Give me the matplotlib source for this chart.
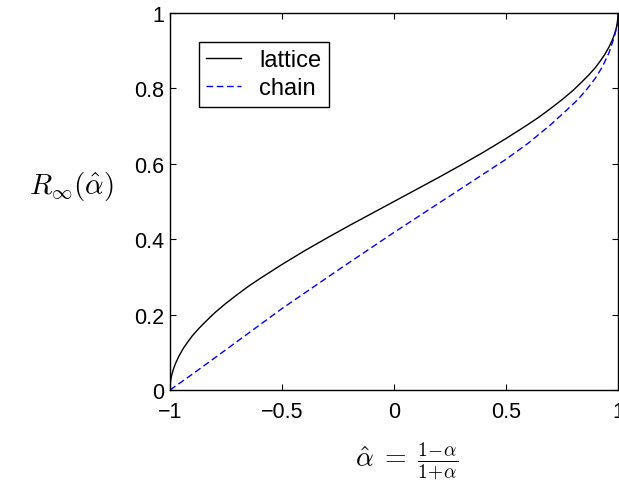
import matplotlib
matplotlib.use("Agg")
import matplotlib.pyplot as plt

plt.rcParams['font.family'] = ['Liberation Sans', 'DejaVu Sans']
plt.rcParams['mathtext.fontset'] = 'cm'

# lattice curve
lattice_x = [-1, -0.999, -0.997, -0.993, -0.985, -0.975, -0.96, -0.94, -0.92, -0.9,
             -0.87, -0.84, -0.8, -0.75, -0.7, -0.65, -0.6, -0.5, -0.4, -0.3, -0.2, -0.1, 0,
             0.1, 0.2, 0.3, 0.4, 0.5, 0.6, 0.65, 0.7, 0.75, 0.8, 0.84, 0.87, 0.9, 0.92,
             0.94, 0.96, 0.975, 0.985, 0.993, 0.997, 0.999, 1]
lattice_y = [0, 0.014, 0.025, 0.038, 0.055, 0.071, 0.09, 0.111, 0.128, 0.144,
             0.164, 0.182, 0.205, 0.230, 0.253, 0.275, 0.295, 0.333, 0.369, 0.403, 0.436, 0.468, 0.5,
             0.532, 0.564, 0.597, 0.631, 0.667, 0.705, 0.725, 0.747, 0.770, 0.795, 0.818, 0.836, 0.856, 0.872,
             0.889, 0.91, 0.929, 0.945, 0.962, 0.975, 0.986, 1.0]

# chain curve
chain_x = [-1, -0.9, -0.75, -0.5, -0.25, 0, 0.25, 0.5, 0.6, 0.7, 0.77, 0.82, 0.86,
           0.9, 0.93, 0.96, 0.98, 0.99, 1.0]
chain_y = [0, 0.042, 0.107, 0.216, 0.318, 0.418, 0.515, 0.612, 0.655, 0.704, 0.742,
           0.77, 0.797, 0.828, 0.857, 0.895, 0.93, 0.952, 0.975]

xticks = [-1, -0.5, 0, 0.5, 1]
xtick_labels = ['\u22121', '\u22120.5', '0', '0.5', '1']
yticks = [0, 0.2, 0.4, 0.6, 0.8, 1]
ytick_labels = ['0', '0.2', '0.4', '0.6', '0.8', '1']

fig = plt.figure(figsize=(6.19, 4.85), dpi=100)
ax = fig.add_axes([170/619, (485-391)/485, 448/619, 377/485])

ax.plot(lattice_x, lattice_y, color='black', lw=1.0, label='lattice')
ax.plot(chain_x, chain_y, color='#0000ff', lw=1.0, ls=(0, (4.8, 2.6)), label='chain')

ax.set_xlim(-1, 1)
ax.set_ylim(0, 1)
ax.set_xticks(xticks)
ax.set_xticklabels(xtick_labels)
ax.set_yticks(yticks)
ax.set_yticklabels(ytick_labels)
ax.tick_params(direction='in', top=True, right=True, length=4, width=0.8,
               labelsize=15.5)
ax.tick_params(axis='x', pad=8)
ax.tick_params(axis='y', pad=4)
for s in ax.spines.values():
    s.set_linewidth(1.0)

leg = ax.legend(loc='upper left', bbox_to_anchor=(0.0647, 0.923), fontsize=17,
                frameon=True, fancybox=False, edgecolor='black', framealpha=1,
                handlelength=1.5, borderpad=0.3, labelspacing=0.27,
                handletextpad=0.76, borderaxespad=0)
leg.get_frame().set_linewidth(1.0)

ax.text(-0.22, 0.54, r'$R_\infty(\hat\alpha)$', transform=ax.transAxes,
        ha='center', va='center', fontsize=21)
ax.text((407-170)/448, (391-462)/377,
        r'$\hat\alpha\;=\;\frac{1\!-\!\alpha}{1\!+\!\alpha}$',
        transform=ax.transAxes, ha='center', va='center', fontsize=20)

fig.savefig('out.png', dpi=100)
